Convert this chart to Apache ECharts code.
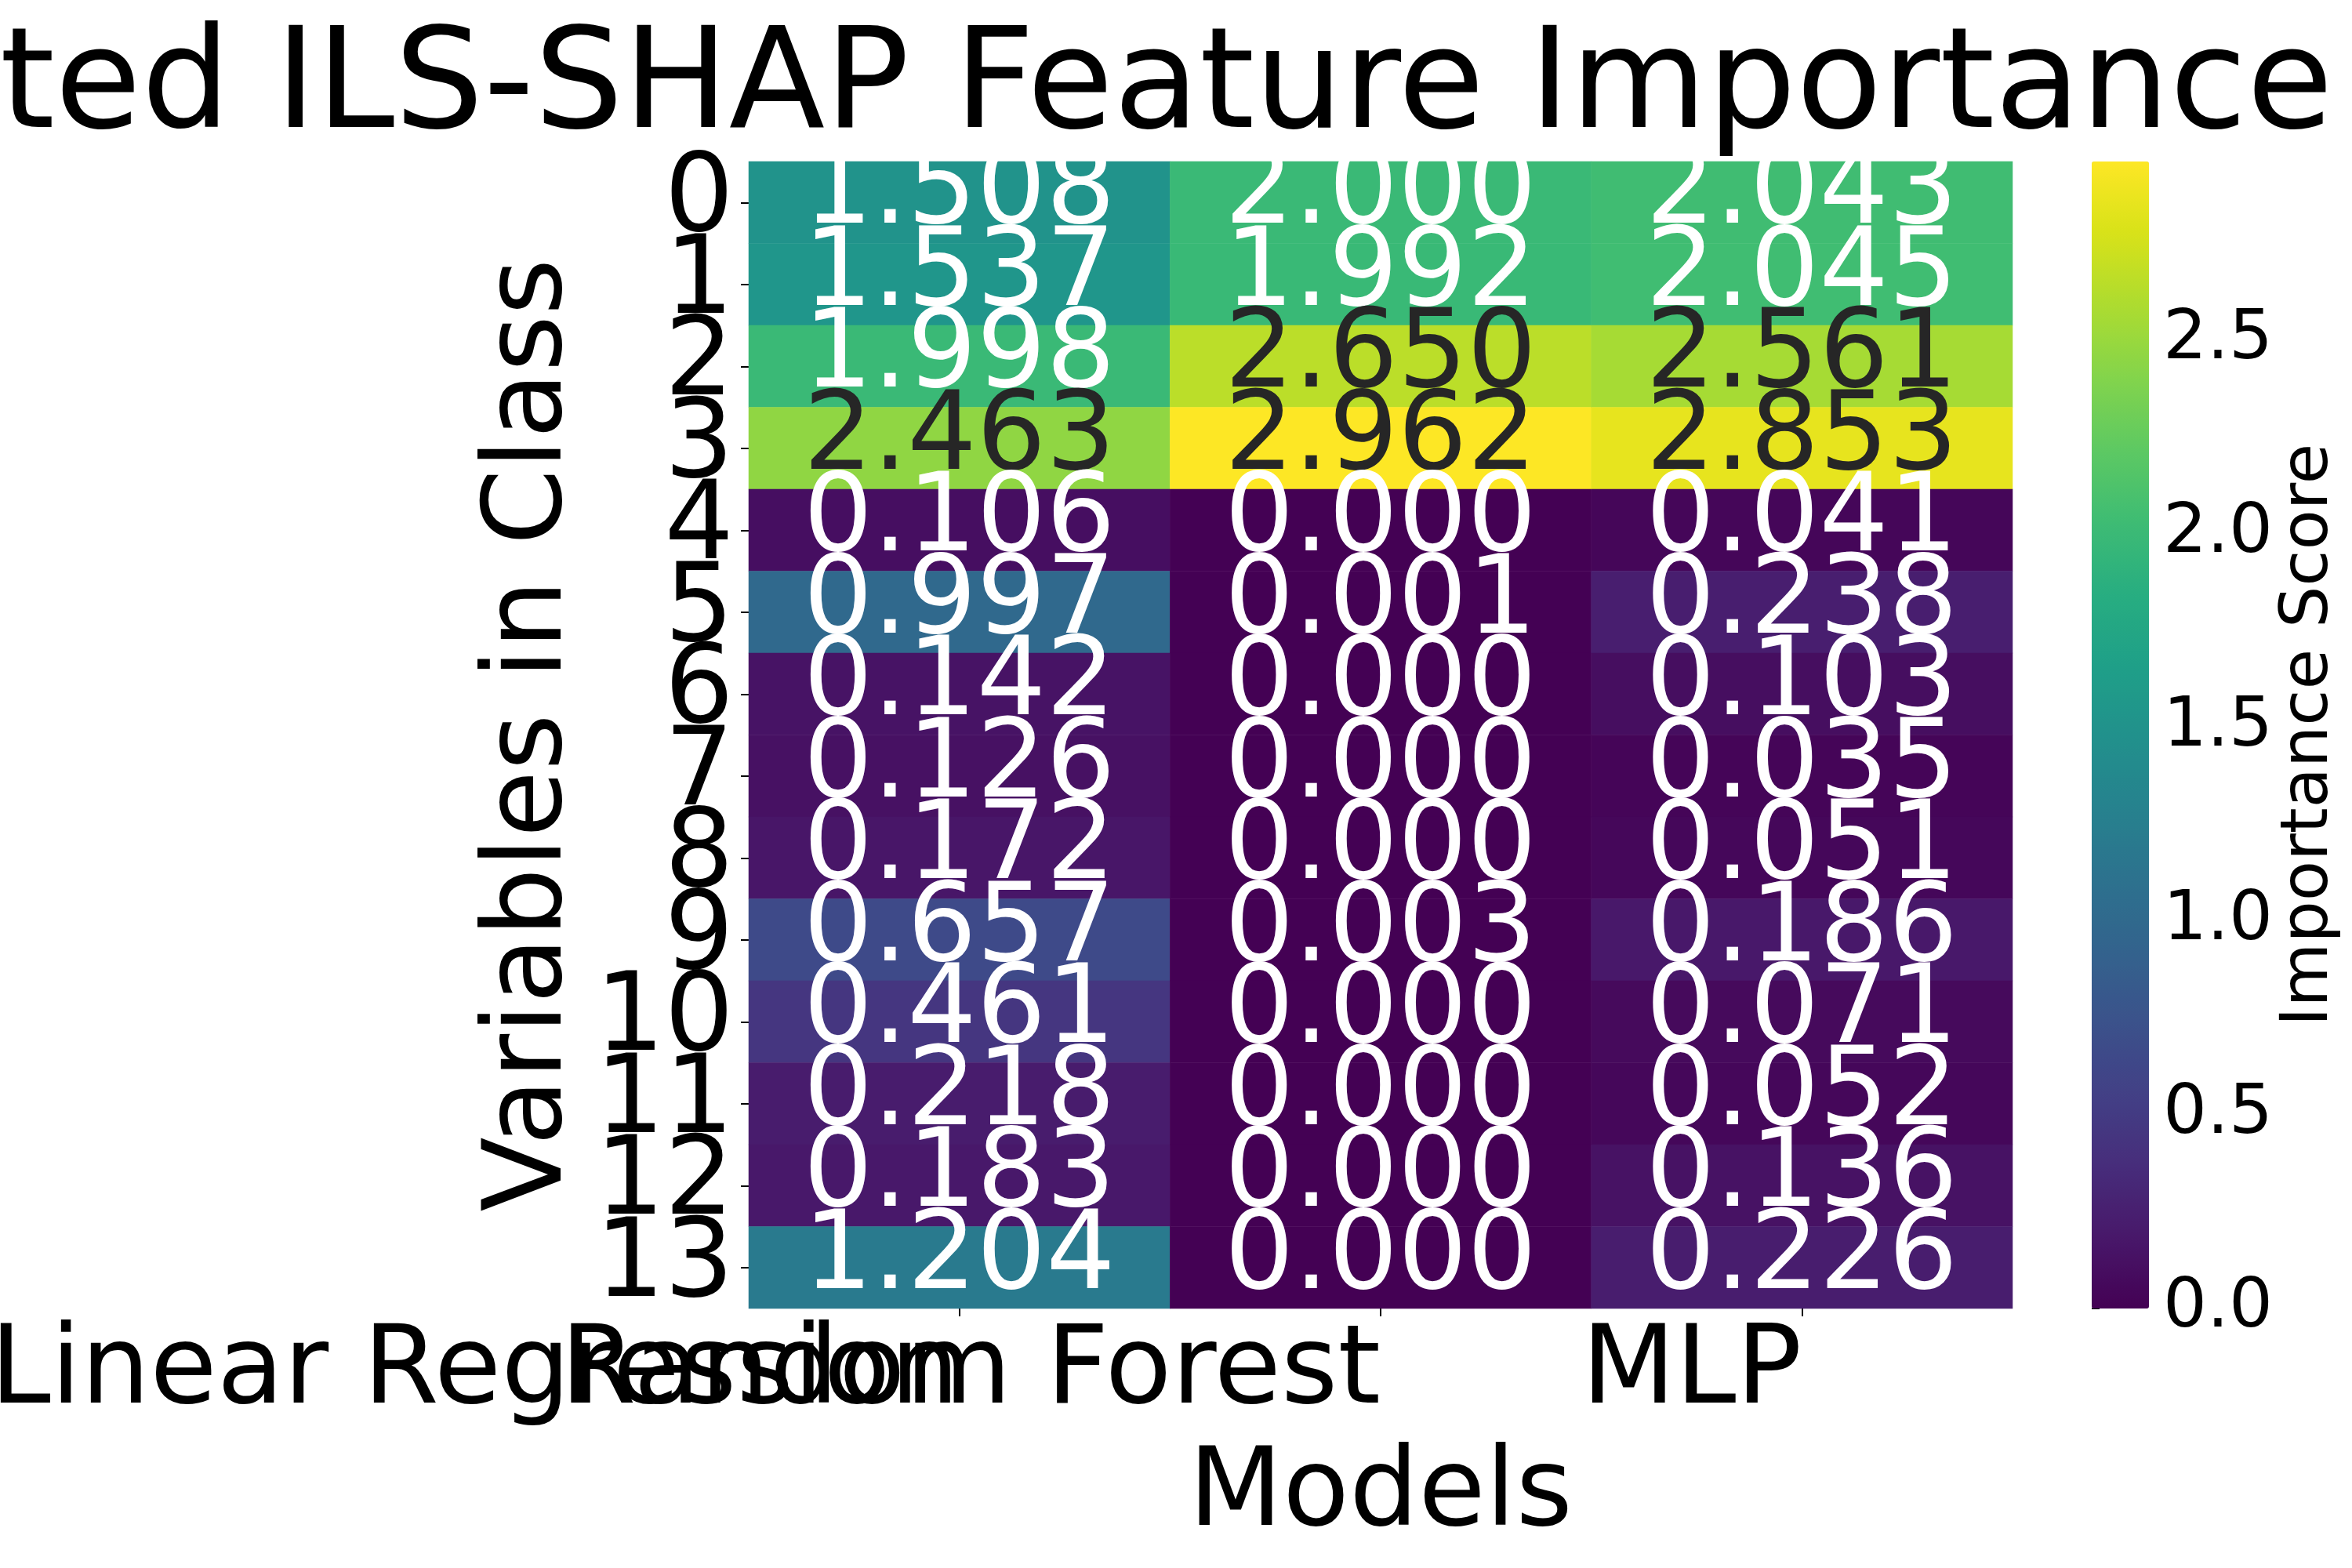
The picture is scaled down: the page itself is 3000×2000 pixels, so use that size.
<!DOCTYPE html>
<html><head><meta charset="utf-8">
<script src="https://cdn.jsdelivr.net/npm/echarts@6/dist/echarts.min.js"></script>
<style>html,body{margin:0;padding:0;background:#fff}#c{width:3000px;height:2000px}</style>
</head><body><div id="c"></div>
<script>
// ---- data ----
const titleText = 'Aggregated ILS-SHAP Feature Importance';
const models = ['Linear Regression', 'Random Forest', 'MLP'];
const variables = ['0','1','2','3','4','5','6','7','8','9','10','11','12','13'];
const linearRegression = [1.508, 1.537, 1.998, 2.463, 0.106, 0.997, 0.142, 0.126, 0.172, 0.657, 0.461, 0.218, 0.183, 1.204];
const randomForest     = [2.000, 1.992, 2.650, 2.962, 0.000, 0.001, 0.000, 0.000, 0.000, 0.003, 0.000, 0.000, 0.000, 0.000];
const mlp              = [2.043, 2.045, 2.561, 2.853, 0.041, 0.238, 0.103, 0.035, 0.051, 0.186, 0.071, 0.052, 0.136, 0.226];
const colorbarTicks = [0, 0.5, 1.0, 1.5, 2.0, 2.5];
const xName = 'Models';
const yName = 'Variables in Class';
const cbName = 'Importance Score';

// ---- styling ----
const FONT = '"DejaVu Sans"';
const viridis = ['#440154','#48186a','#472d7b','#424086','#3b528b','#33638d','#2c728e','#26828e',
  '#21918c','#1fa088','#28ae80','#3fbc73','#5ec962','#84d44b','#addc30','#d8e219','#fde725'];

const columns = [linearRegression, randomForest, mlp];
const vmin = 0;
const vmax = Math.max(...columns.flat());

function hexToRgb(h){ return [1,3,5].map(i => parseInt(h.slice(i,i+2),16)); }
function viridisAt(t){
  t = Math.min(1, Math.max(0, t));
  const p = t * (viridis.length - 1);
  const i = Math.min(viridis.length - 2, Math.floor(p));
  const f = p - i;
  const a = hexToRgb(viridis[i]), b = hexToRgb(viridis[i+1]);
  return a.map((v,k) => v + (b[k]-v)*f);
}
function luminance(rgb){
  const c = rgb.map(v => { v/=255; return v <= 0.03928 ? v/12.92 : Math.pow((v+0.055)/1.055, 2.4); });
  return 0.2126*c[0] + 0.7152*c[1] + 0.0722*c[2];
}

const heatData = [];
columns.forEach((col, xi) => {
  col.forEach((v, yi) => {
    const lum = luminance(viridisAt((v - vmin) / (vmax - vmin)));
    heatData.push({ value: [xi, yi, v], label: { color: lum > 0.408 ? '#262626' : '#ffffff' } });
  });
});

const chart = echarts.init(document.getElementById('c'), null, { renderer: 'canvas' });
const gridLeft = 955, gridTop = 206, gridW = 1612, gridH = 1463;

chart.setOption({
  animation: false,
  backgroundColor: '#ffffff',
  graphic: [{
    type: 'text', x: 2976, y: 205,
    style: { text: titleText, font: '179px ' + FONT, fill: '#000', align: 'right', verticalAlign: 'bottom' }
  }],
  grid: [
    { left: gridLeft, top: gridTop, width: gridW, height: gridH, outerBoundsMode: 'none', containLabel: false },
    { left: 2668, top: gridTop, width: 73, height: gridH, outerBoundsMode: 'none', containLabel: false }
  ],
  xAxis: [{
    type: 'category', data: models, gridIndex: 0, position: 'bottom',
    axisLine: { show: false },
    axisTick: { show: true, alignWithLabel: true, length: 10, lineStyle: { color: '#000', width: 2 } },
    axisLabel: { interval: 0, align: 'right', verticalAlign: 'top', margin: 14, fontSize: 139, lineHeight: 139, fontFamily: FONT, color: '#000', hideOverlap: false },
    splitLine: { show: false },
    name: xName, nameLocation: 'middle', nameGap: 170,
    nameTextStyle: { fontSize: 139, lineHeight: 139, fontFamily: FONT, color: '#000', verticalAlign: 'top' }
  }, {
    type: 'value', gridIndex: 1, show: false, min: 0, max: 1
  }],
  yAxis: [{
    type: 'category', data: variables, gridIndex: 0, inverse: true,
    axisLine: { show: false },
    axisTick: { show: true, alignWithLabel: true, length: 10, lineStyle: { color: '#000', width: 2 } },
    axisLabel: { interval: 0, margin: 19, fontSize: 139, lineHeight: 139, fontFamily: FONT, color: '#000', padding: [0,0,20,0], hideOverlap: false },
    splitLine: { show: false },
    name: yName, nameLocation: 'middle', nameGap: 203,
    nameTextStyle: { fontSize: 139, lineHeight: 139, fontFamily: FONT, color: '#000' }
  }, {
    type: 'value', gridIndex: 1, position: 'right', min: vmin, max: vmax,
    axisLine: { show: false },
    axisTick: { show: true, length: 10, customValues: colorbarTicks, lineStyle: { color: '#000', width: 2 } },
    axisLabel: { customValues: colorbarTicks, formatter: v => v.toFixed(1), margin: 18, fontSize: 88, fontFamily: FONT, color: '#000', padding: [16,0,0,0] },
    splitLine: { show: false },
    name: cbName, nameLocation: 'middle', nameGap: 163,
    nameTextStyle: { fontSize: 84, fontFamily: FONT, color: '#000' }
  }],
  visualMap: {
    type: 'continuous', min: vmin, max: vmax, dimension: 2, seriesIndex: 0,
    calculable: false, realtime: false, hoverLink: false,
    orient: 'vertical', left: 2668, top: gridTop, itemWidth: 73, itemHeight: gridH,
    padding: 0, text: null, showLabel: false,
    inRange: { color: viridis }
  },
  series: [{
    type: 'heatmap', xAxisIndex: 0, yAxisIndex: 0, data: heatData,
    itemStyle: { borderWidth: 0 },
    label: {
      show: true, fontSize: 139, fontFamily: FONT, offset: [0, -10],
      formatter: p => p.value[2].toFixed(3)
    },
    emphasis: { disabled: true }
  }, {
    type: 'scatter', xAxisIndex: 1, yAxisIndex: 1, data: [], silent: true
  }]
});
</script></body></html>
